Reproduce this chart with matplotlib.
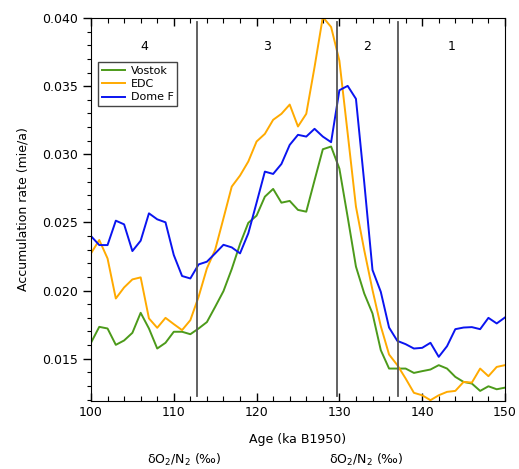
import numpy as np
import matplotlib
matplotlib.use("Agg")
import matplotlib.pyplot as plt
from matplotlib.ticker import MultipleLocator

# ages in ka B1950, one sample per ka
age = np.arange(100, 151)

vostok = [0.01617, 0.01734, 0.01722, 0.01602, 0.01634, 0.01690, 0.01837, 0.01722, 0.01575, 0.01617,
          0.01698, 0.01698, 0.01680, 0.01722, 0.01769, 0.01881, 0.01996, 0.02158, 0.02342, 0.02497,
          0.02550, 0.02689, 0.02746, 0.02645, 0.02658, 0.02592, 0.02579, 0.02809, 0.03037, 0.03057,
          0.02895, 0.02540, 0.02176, 0.01979, 0.01832, 0.01563, 0.01428, 0.01428, 0.01428, 0.01396,
          0.01409, 0.01421, 0.01453, 0.01428, 0.01367, 0.01330, 0.01318, 0.01264, 0.01298, 0.01276,
          0.01288]

edc = [0.02273, 0.02371, 0.02236, 0.01942, 0.02023, 0.02082, 0.02097, 0.01796, 0.01727, 0.01800,
       0.01754, 0.01710, 0.01783, 0.01955, 0.02163, 0.02300, 0.02530, 0.02763, 0.02844, 0.02947,
       0.03094, 0.03150, 0.03253, 0.03297, 0.03365, 0.03204, 0.03297, 0.03640, 0.04007, 0.03934,
       0.03687, 0.03154, 0.02616, 0.02297, 0.02004, 0.01739, 0.01531, 0.01453, 0.01355, 0.01250,
       0.01232, 0.01196, 0.01232, 0.01257, 0.01264, 0.01330, 0.01325, 0.01428, 0.01372, 0.01440,
       0.01453]

domef = [0.02400, 0.02334, 0.02334, 0.02513, 0.02486, 0.02290, 0.02366, 0.02567, 0.02523, 0.02501,
         0.02261, 0.02107, 0.02089, 0.02192, 0.02212, 0.02273, 0.02336, 0.02317, 0.02273, 0.02420,
         0.02645, 0.02873, 0.02856, 0.02929, 0.03069, 0.03143, 0.03130, 0.03187, 0.03130, 0.03089,
         0.03470, 0.03502, 0.03407, 0.02795, 0.02151, 0.01991, 0.01729, 0.01631, 0.01607, 0.01575,
         0.01580, 0.01617, 0.01514, 0.01592, 0.01717, 0.01729, 0.01732, 0.01717, 0.01800, 0.01759,
         0.01803]

# boundaries between the numbered stages
bounds = [112.8, 129.7, 137.1]
stage_pos = [106.4, 121.2, 133.4, 143.5]
stage_lab = ["4", "3", "2", "1"]

plt.rcParams["font.family"] = "DejaVu Sans"
plt.rcParams["font.size"] = 9

fig = plt.figure(figsize=(5.19, 4.69), dpi=100)
ax = fig.add_axes([0.1753, 0.145, 0.7977, 0.8166])

ax.plot(age, vostok, color="#4c9a1a", lw=1.4, label="Vostok")
ax.plot(age, edc, color="#ffaa00", lw=1.4, label="EDC")
ax.plot(age, domef, color="#0a14f0", lw=1.4, label="Dome F")

for b in bounds:
    ax.axvline(b, ymin=0.013, ymax=0.99, color="#555555", lw=1.3)
for p, s in zip(stage_pos, stage_lab):
    ax.text(p, 0.0379, s, ha="center", va="center", fontsize=9)

ax.set_xlim(100, 150)
ax.set_ylim(0.0119, 0.040)
ax.xaxis.set_major_locator(MultipleLocator(10))
ax.xaxis.set_minor_locator(MultipleLocator(2))
ax.yaxis.set_major_locator(MultipleLocator(0.005))
ax.yaxis.set_minor_locator(MultipleLocator(0.001))
ax.yaxis.set_major_formatter(matplotlib.ticker.FormatStrFormatter("%.3f"))

ax.tick_params(axis="x", which="both", direction="in", top=True, bottom=True)
ax.tick_params(axis="x", which="major", length=6, width=1)
ax.tick_params(axis="x", which="minor", length=3.5, width=0.8)
ax.tick_params(axis="y", which="both", direction="out", right=False)
ax.tick_params(axis="y", which="major", length=6, width=1)
ax.tick_params(axis="y", which="minor", length=3, width=0.8)

ax.set_xlabel("Age (ka B1950)", labelpad=10)
ax.set_ylabel("Accumulation rate (mie/a)", labelpad=9)

leg = ax.legend(loc="upper left", bbox_to_anchor=(0.018, 0.884), borderaxespad=0,
                fancybox=False, framealpha=1, edgecolor="#444444", fontsize=8,
                handlelength=2.1, labelspacing=0.3, borderpad=0.3, handletextpad=0.5)
leg.get_frame().set_linewidth(1.0)

fig.text(184 / 519, 1 - 460 / 469, r"δO$_2$/N$_2$ (‰)", ha="center", va="center", fontsize=9)
fig.text(366 / 519, 1 - 460 / 469, r"δO$_2$/N$_2$ (‰)", ha="center", va="center", fontsize=9)

fig.savefig("out.png", dpi=100)
